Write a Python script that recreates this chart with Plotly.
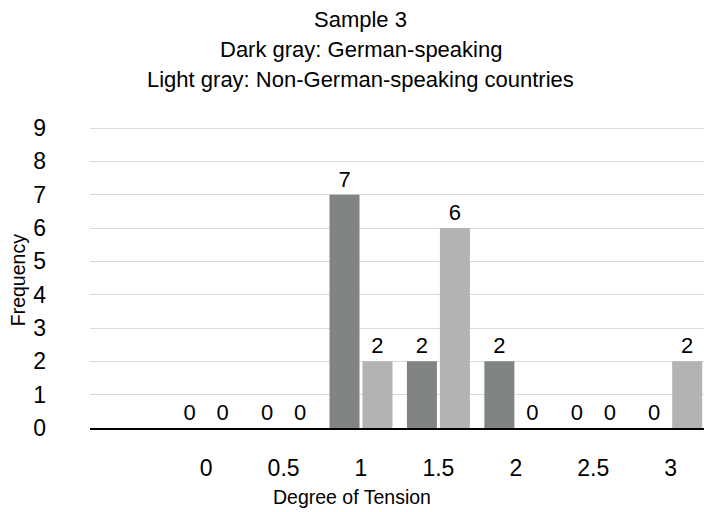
import plotly.graph_objects as go

categories = ["0", "0.5", "1", "1.5", "2", "2.5", "3"]
german = [0, 0, 7, 2, 2, 0, 0]
non_german = [0, 0, 2, 6, 0, 0, 2]
y_ticks = [0, 1, 2, 3, 4, 5, 6, 7, 8, 9]
title_lines = ["Sample 3", "Dark gray: German-speaking", "Light gray: Non-German-speaking countries"]

FONT = "Liberation Sans, Arial, Helvetica, sans-serif"

fig = go.Figure()
fig.add_trace(go.Bar(
    x=categories, y=german, name="German-speaking",
    marker=dict(color="#808583", line=dict(width=0)),
    text=german, textposition="outside", cliponaxis=False,
    textfont=dict(size=22, color="black", family=FONT),
))
fig.add_trace(go.Bar(
    x=categories, y=non_german, name="Non-German-speaking countries",
    marker=dict(color="#b3b3b3", line=dict(width=0)),
    text=non_german, textposition="outside", cliponaxis=False,
    textfont=dict(size=22, color="black", family=FONT),
))

annotations = []
for i, line in enumerate(title_lines):
    annotations.append(dict(
        text=line, xref="paper", yref="paper", x=0.441, y=1.338 - 0.0985 * i,
        xanchor="center", yanchor="middle", showarrow=False,
        font=dict(size=22, family=FONT, color="black"),
    ))
annotations.append(dict(
    text="Degree of Tension", xref="paper", yref="paper", x=0.427, y=-0.226,
    xanchor="center", yanchor="middle", showarrow=False,
    font=dict(size=19.5, family=FONT, color="black"),
))
annotations.append(dict(
    text="Frequency", xref="paper", yref="paper", x=-0.117, y=0.485,
    xanchor="center", yanchor="middle", showarrow=False, textangle=-90,
    font=dict(size=19.5, family=FONT, color="black"),
))

fig.update_layout(
    width=704, height=512,
    barmode="group", bargap=0.148, bargroupgap=0.09,
    plot_bgcolor="white", paper_bgcolor="white",
    showlegend=False,
    margin=dict(l=90, r=0, t=123, b=84, autoexpand=False),
    font=dict(family=FONT, color="black"),
    annotations=annotations,
    xaxis=dict(
        type="category", categoryorder="array", categoryarray=categories,
        range=[-1.5, 6.43],
        showline=True, linecolor="black", linewidth=2,
        showgrid=False, ticks="", tickfont=dict(size=23, family=FONT),
        ticklabelstandoff=18,
    ),
    yaxis=dict(
        range=[0, 9.15], tickvals=y_ticks,
        showgrid=True, gridcolor="#d9d9d9", gridwidth=1,
        zeroline=False, showline=False, ticks="",
        tickfont=dict(size=23, family=FONT),
        ticklabelstandoff=43,
    ),
)

fig.write_html(
    "out.html",
    config={"displayModeBar": False},
    post_script="document.body.style.margin='0';document.body.style.overflow='hidden';",
)
